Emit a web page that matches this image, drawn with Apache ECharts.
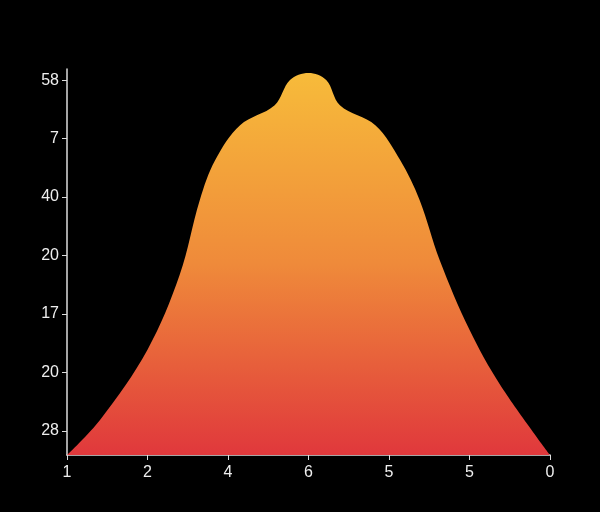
<!DOCTYPE html><html><head><meta charset="utf-8"><script src="https://cdn.jsdelivr.net/npm/echarts@6/dist/echarts.min.js"></script></head><body style="margin:0;background:#000"><div id="c" style="width:600px;height:512px"></div><script>
var xLabels=["1","2","4","6","5","5","0"];
var yLabels=["28","20","17","20","40","7","58"];
var shapeX=[0,0.41,1,1.4,1.65,1.84,2.15,2.58,2.77,3,3.22,3.39,3.83,4.14,4.38,4.63,5,5.38,6];
var shapeY=[0,0.6,1.8,3.08,4.36,5.04,5.64,5.98,6.41,6.53,6.41,5.98,5.64,5.04,4.36,3.33,2.14,1.2,0];
var yTickVals=[0.41,1.41,2.41,3.41,4.41,5.41,6.41];
var data=shapeX.map(function(x,i){return [x,shapeY[i]];});
var ax={lineStyle:{color:'#ddd',width:1.5}};
echarts.init(document.getElementById('c')).setOption({
backgroundColor:'#000',animation:false,
grid:{left:67,right:50,top:69,bottom:57},
xAxis:{type:'value',min:0,max:6,interval:1,axisLine:ax,axisTick:{show:true,lineStyle:{color:'#ddd'}},splitLine:{show:false},
 axisLabel:{color:'#eee',fontSize:16,margin:10,formatter:function(v){return xLabels[Math.round(v)];}}},
yAxis:{type:'value',min:0,max:6.6,axisLine:{show:true,lineStyle:{color:'#ddd',width:1.5}},splitLine:{show:false},
 axisTick:{show:true,customValues:yTickVals,lineStyle:{color:'#ddd'}},
 axisLabel:{color:'#eee',fontSize:16,customValues:yTickVals,formatter:function(v){return yLabels[yTickVals.indexOf(v)];}}},
series:[{type:'line',data:data,smooth:0.35,showSymbol:false,lineStyle:{width:0},
 areaStyle:{opacity:1,color:new echarts.graphic.LinearGradient(0,0,0,1,[{offset:0,color:'#f7bb3a'},{offset:0.5,color:'#ef8a3a'},{offset:1,color:'#e0383c'}])}}]
});
</script></body></html>
